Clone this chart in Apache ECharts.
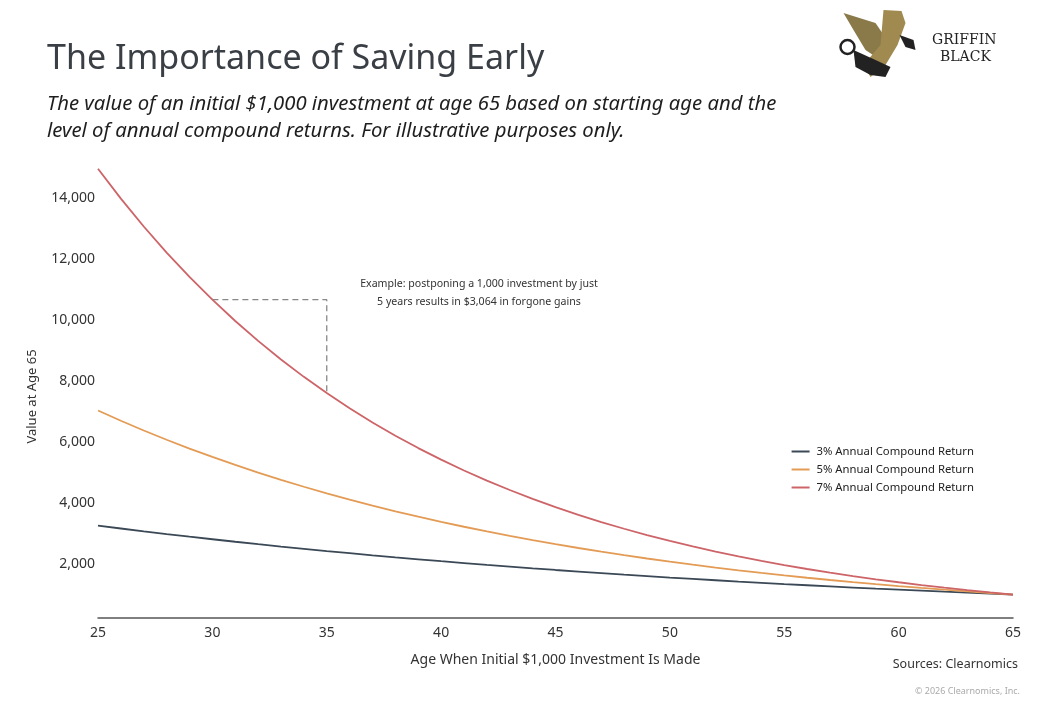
<!DOCTYPE html>
<html><head><meta charset="utf-8">
<script src="https://cdn.jsdelivr.net/npm/echarts@6/dist/echarts.min.js"></script>
<style>html,body{margin:0;padding:0;background:#fff}#c{width:1062px;height:720px}</style>
</head><body><div id="c"></div>
<script>
const ages = [25,26,27,28,29,30,31,32,33,34,35,36,37,38,39,40,41,42,43,44,45,46,47,48,49,50,51,52,53,54,55,56,57,58,59,60,61,62,63,64,65];
const ret3 = [3262,3167,3075,2985,2898,2814,2732,2652,2575,2500,2427,2357,2288,2221,2157,2094,2033,1974,1916,1860,1806,1754,1702,1653,1605,1558,1513,1469,1426,1384,1344,1305,1267,1230,1194,1159,1126,1093,1061,1030,1000];
const ret5 = [7040,6705,6385,6081,5792,5516,5253,5003,4765,4538,4322,4116,3920,3733,3556,3386,3225,3072,2925,2786,2653,2527,2407,2292,2183,2079,1980,1886,1796,1710,1629,1551,1477,1407,1340,1276,1216,1158,1103,1050,1000];
const ret7 = [14974,13995,13079,12224,11424,10677,9978,9325,8715,8145,7612,7114,6649,6214,5807,5427,5072,4741,4430,4141,3870,3617,3380,3159,2952,2759,2579,2410,2252,2105,1967,1838,1718,1606,1501,1403,1311,1225,1145,1070,1000];
const seriesNames = ['3% Annual Compound Return','5% Annual Compound Return','7% Annual Compound Return'];
const xTicks = [25,30,35,40,45,50,55,60,65];
const annotationAges = [30,35];

const FONT = '"Noto Sans", sans-serif';
const chart = echarts.init(document.getElementById('c'), null, {renderer:'canvas'});
const pair = (arr) => ages.map((a,i)=>[a,arr[i]]);
const iA = ages.indexOf(annotationAges[0]), iB = ages.indexOf(annotationAges[1]);
const dashData = [[annotationAges[0], ret7[iA]],[annotationAges[1], ret7[iA]],[annotationAges[1], ret7[iB]]];

chart.setOption({
  animation:false,
  backgroundColor:'#fff',
  textStyle:{fontFamily:FONT},
  grid:{left:98,right:49,top:168,bottom:95,containLabel:false},
  xAxis:{type:'value',min:25,max:65,interval:5,
    offset:-7,
    axisLine:{show:true,lineStyle:{color:'#555',width:1.5}},
    axisTick:{show:false},splitLine:{show:false},
    axisLabel:{color:'#333',fontSize:14,margin:8,fontFamily:FONT,formatter:v=>xTicks.includes(v)?String(v):''},
    name:'Age When Initial $1,000 Investment Is Made',nameLocation:'middle',nameGap:35,
    nameTextStyle:{color:'#333',fontSize:14,fontFamily:FONT}},
  yAxis:{type:'value',min:0,max:15000,interval:2000,
    axisLine:{show:false},axisTick:{show:false},splitLine:{show:false},
    axisLabel:{color:'#333',fontSize:14,margin:3,fontFamily:FONT,showMinLabel:false,showMaxLabel:false,
      formatter:v=>(v===0||v>14000)?'':v.toLocaleString('en-US')},
    name:'Value at Age 65',nameLocation:'middle',nameGap:59,nameRotate:90,
    nameTextStyle:{color:'#333',fontSize:13,fontFamily:FONT}},
  legend:{orient:'vertical',right:83,top:441,itemWidth:18,itemHeight:2,itemGap:7,icon:'rect',
    textStyle:{color:'#222',fontSize:11.3,fontFamily:FONT,padding:[0,0,0,2]},
    data:seriesNames},
  series:[
    {name:seriesNames[0],type:'line',data:pair(ret3),showSymbol:false,smooth:false,lineStyle:{color:'#3b4856',width:1.8},itemStyle:{color:'#3b4856'}},
    {name:seriesNames[1],type:'line',data:pair(ret5),showSymbol:false,lineStyle:{color:'#e39b55',width:1.8},itemStyle:{color:'#e39b55'}},
    {name:seriesNames[2],type:'line',data:pair(ret7),showSymbol:false,lineStyle:{color:'#cd6468',width:1.8},itemStyle:{color:'#cd6468'}},
    {name:'annot',type:'line',data:dashData,showSymbol:false,silent:true,lineStyle:{color:'#888',width:1.3,type:[6,4]},z:1}
  ],
  graphic:[
    {type:'text',left:47,top:42,style:{text:'The Importance of Saving Early',fill:'#3a3f45',font:'34px '+FONT}},
    {type:'text',left:47,top:91,style:{text:'The value of an initial $1,000 investment at age 65 based on starting age and the\nlevel of annual compound returns. For illustrative purposes only.',fill:'#1e1e1e',font:'italic 20.3px '+FONT,lineHeight:27}},
    {type:'text',x:479,y:275,style:{text:'Example: postponing a 1,000 investment by just\n5 years results in $3,064 in forgone gains',fill:'#333',font:'10.6px '+FONT,align:'center',lineHeight:18}},
    {type:'text',right:44,top:658,style:{text:'Sources: Clearnomics',fill:'#333',font:'12.5px '+FONT,align:'right'}},
    {type:'text',right:42,top:687,style:{text:'© 2026 Clearnomics, Inc.',fill:'#aaa',font:'9px '+FONT,align:'right'}},
    {type:'group',left:838,top:10,children:[
      {type:'polygon',shape:{points:[[8,8],[40,18],[55,40],[45,55],[30,45],[18,25]]},style:{fill:'#8a7a4a'}},
      {type:'polygon',shape:{points:[[48,5],[66,6],[70,18],[62,40],[50,60],[35,72],[28,60],[45,40]]},style:{fill:'#a08a50'}},
      {type:'circle',shape:{cx:12,cy:42,r:7},style:{fill:'none',stroke:'#222',lineWidth:2.5}},
      {type:'polygon',shape:{points:[[18,45],[40,55],[55,62],[50,72],[35,70],[20,62]]},style:{fill:'#222'}},
      {type:'polygon',shape:{points:[[64,30],[78,35],[80,45],[70,42]]},style:{fill:'#222'}}
    ]},
    {type:'text',left:932,top:33,style:{text:'GRIFFIN',fill:'#222',font:'14px "DejaVu Serif", serif'}},
    {type:'text',left:940,top:50,style:{text:'BLACK',fill:'#222',font:'14px "DejaVu Serif", serif'}}
  ]
});
</script></body></html>
